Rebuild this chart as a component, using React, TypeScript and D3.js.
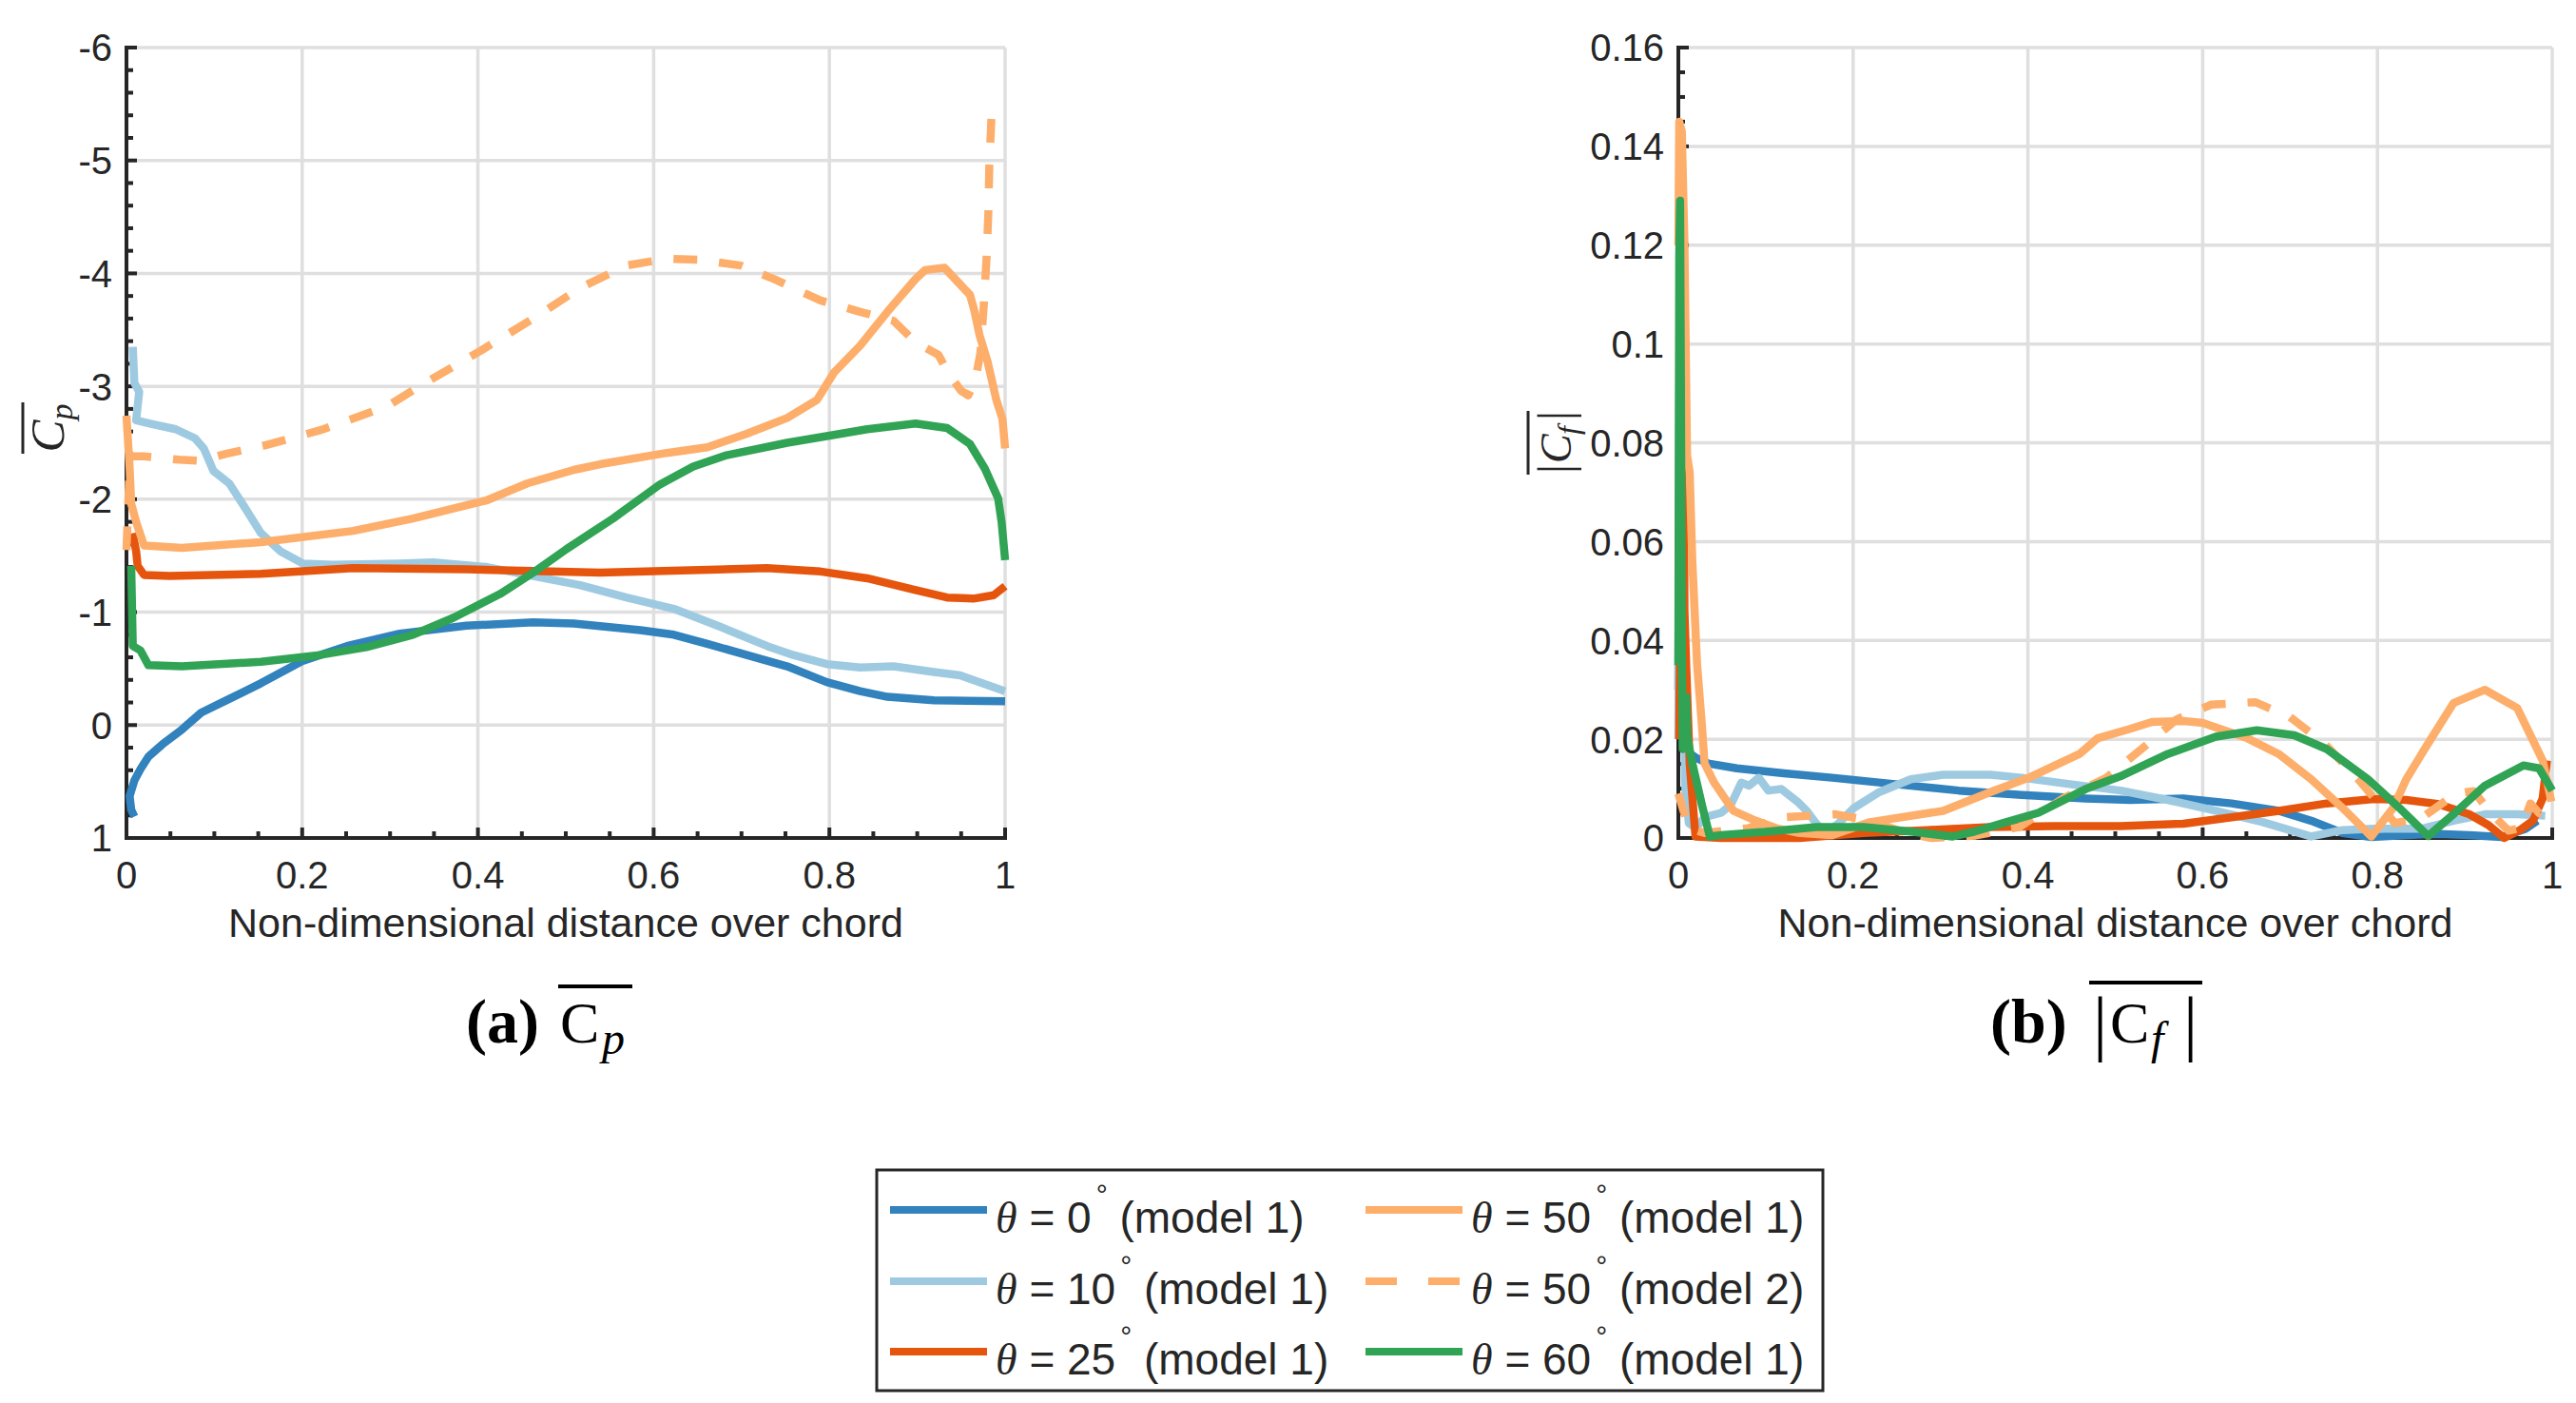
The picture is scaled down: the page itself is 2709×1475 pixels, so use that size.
import * as d3 from "d3";

type Pt = [number, number];

const FONT = "'Liberation Sans', Arial, Helvetica, sans-serif";
const SERIF = "'Liberation Serif', 'Times New Roman', serif";
const INK = "#262626";
const GRID = "#dfdfdf";

// ticks
const xTicks = [0, 0.2, 0.4, 0.6, 0.8, 1];
const xTickLabels = ["0", "0.2", "0.4", "0.6", "0.8", "1"];
const cpTicks = [-6, -5, -4, -3, -2, -1, 0, 1];
const cpTickLabels = ["-6", "-5", "-4", "-3", "-2", "-1", "0", "1"];
const cfTicks = [0, 0.02, 0.04, 0.06, 0.08, 0.1, 0.12, 0.14, 0.16];
const cfTickLabels = ["0", "0.02", "0.04", "0.06", "0.08", "0.1", "0.12", "0.14", "0.16"];

// legend / series
const seriesAngles = ["0", "10", "25", "50", "50", "60"];
const seriesModels = ["(model 1)", "(model 1)", "(model 1)", "(model 1)", "(model 2)", "(model 1)"];
const seriesColors = ["#3182bd", "#9ecae1", "#e6550d", "#fdae6b", "#fdae6b", "#31a354"];
const seriesDashed = [false, false, false, false, true, false];

// mean Cp over chord
const cpTheta0: Pt[] = [
  [0.009, 0.81], [0.0054, 0.75], [0.0036, 0.63], [0.009, 0.49], [0.016, 0.39], [0.025, 0.28],
  [0.041, 0.17], [0.063, 0.04], [0.085, -0.11], [0.114, -0.22], [0.153, -0.37], [0.201, -0.57],
  [0.251, -0.7], [0.311, -0.81], [0.387, -0.88], [0.463, -0.91], [0.509, -0.9], [0.585, -0.84],
  [0.623, -0.8], [0.661, -0.72], [0.706, -0.62], [0.752, -0.52], [0.797, -0.38], [0.835, -0.3],
  [0.866, -0.25], [0.919, -0.22], [1.0, -0.21],
];
const cpTheta10: Pt[] = [
  [0.0072, -3.35], [0.009, -3.03], [0.0145, -2.95], [0.011, -2.7], [0.027, -2.67], [0.056, -2.62],
  [0.078, -2.54], [0.088, -2.45], [0.099, -2.25], [0.117, -2.14], [0.132, -1.96], [0.153, -1.7],
  [0.175, -1.54], [0.201, -1.43], [0.235, -1.42], [0.311, -1.43], [0.349, -1.44], [0.41, -1.4],
  [0.463, -1.32], [0.516, -1.24], [0.569, -1.13], [0.623, -1.03], [0.676, -0.87], [0.729, -0.7],
  [0.759, -0.62], [0.797, -0.54], [0.835, -0.51], [0.873, -0.52], [0.919, -0.47], [0.949, -0.44],
  [1.0, -0.3],
];
const cpTheta25: Pt[] = [
  [0.007, -1.7], [0.011, -1.54], [0.0127, -1.41], [0.02, -1.33], [0.049, -1.32], [0.153, -1.34],
  [0.258, -1.39], [0.387, -1.38], [0.539, -1.35], [0.729, -1.39], [0.79, -1.36], [0.843, -1.3],
  [0.896, -1.2], [0.934, -1.13], [0.964, -1.12], [0.987, -1.15], [1.0, -1.23],
];
const cpTheta50: Pt[] = [
  [0.0, -2.74], [0.0036, -2.28], [0.0054, -1.96], [0.011, -1.8], [0.02, -1.59], [0.063, -1.57],
  [0.153, -1.62], [0.258, -1.72], [0.326, -1.83], [0.41, -1.99], [0.456, -2.14], [0.509, -2.26],
  [0.539, -2.31], [0.615, -2.41], [0.661, -2.46], [0.706, -2.58], [0.752, -2.72], [0.786, -2.88],
  [0.805, -3.12], [0.835, -3.36], [0.866, -3.66], [0.898, -3.95], [0.909, -4.03], [0.931, -4.05],
  [0.96, -3.81], [0.965, -3.67], [0.971, -3.45], [0.98, -3.22], [0.99, -2.88], [0.997, -2.71],
  [1.0, -2.45],
];
const cpTheta50m2: Pt[] = [
  [0.0, -1.55], [0.004, -2.38], [0.02, -2.38], [0.06, -2.35], [0.084, -2.34], [0.112, -2.4],
  [0.159, -2.48], [0.22, -2.61], [0.296, -2.82], [0.342, -3.04], [0.402, -3.31], [0.463, -3.6],
  [0.516, -3.87], [0.569, -4.07], [0.615, -4.13], [0.653, -4.12], [0.699, -4.07], [0.737, -3.95],
  [0.79, -3.76], [0.835, -3.66], [0.873, -3.58], [0.898, -3.39], [0.924, -3.28], [0.936, -3.11],
  [0.95, -2.96], [0.958, -2.92], [0.966, -3.05], [0.972, -3.3], [0.976, -3.75], [0.979, -4.15],
  [0.981, -4.55], [0.982, -4.95], [0.984, -5.3], [0.985, -5.48],
];
const cpTheta60: Pt[] = [
  [0.0054, -1.41], [0.0072, -0.7], [0.016, -0.66], [0.025, -0.53], [0.063, -0.52], [0.153, -0.56],
  [0.22, -0.62], [0.273, -0.69], [0.326, -0.8], [0.372, -0.95], [0.425, -1.16], [0.463, -1.35],
  [0.501, -1.56], [0.554, -1.83], [0.607, -2.13], [0.645, -2.29], [0.683, -2.39], [0.752, -2.5],
  [0.805, -2.57], [0.843, -2.62], [0.898, -2.67], [0.934, -2.63], [0.96, -2.49], [0.977, -2.27],
  [0.992, -2.01], [0.996, -1.8], [1.0, -1.46],
];

// mean |Cf| over chord
const cfTheta0: Pt[] = [
  [0, 0.03], [0.002, 0.12], [0.004, 0.06], [0.006, 0.025], [0.009, 0.0176], [0.0196, 0.0163],
  [0.034, 0.0151], [0.067, 0.0141], [0.121, 0.0131], [0.176, 0.0122], [0.248, 0.0109],
  [0.321, 0.0096], [0.393, 0.0087], [0.466, 0.008], [0.517, 0.0077], [0.578, 0.008], [0.633, 0.007],
  [0.687, 0.0055], [0.724, 0.0035], [0.76, 0.001], [0.793, 0.0002], [0.833, 0.0006],
  [0.869, 0.0008], [0.905, 0.0006], [0.942, 0.0002], [0.97, 0.0019], [0.983, 0.0035],
];
const cfTheta10: Pt[] = [
  [0, 0.02], [0.002, 0.133], [0.004, 0.09], [0.006, 0.03], [0.008, 0.01], [0.012, 0.003],
  [0.02, 0.002], [0.03, 0.0042], [0.049, 0.0051], [0.06, 0.0067], [0.072, 0.0112], [0.081, 0.0106],
  [0.092, 0.0122], [0.103, 0.0096], [0.118, 0.0099], [0.136, 0.0074], [0.147, 0.0055],
  [0.158, 0.0029], [0.168, 0.001], [0.183, 0.0029], [0.201, 0.0061], [0.23, 0.0093],
  [0.266, 0.0119], [0.303, 0.0128], [0.357, 0.0128], [0.393, 0.0122], [0.448, 0.0109],
  [0.506, 0.0096], [0.56, 0.0077], [0.615, 0.0055], [0.669, 0.0032], [0.724, 0.0003],
  [0.76, 0.0016], [0.796, 0.0019], [0.851, 0.0019], [0.887, 0.0035], [0.923, 0.0048],
  [0.96, 0.0048], [0.992, 0.0045],
];
const cfTheta25: Pt[] = [
  [0.001, 0.02], [0.004, 0.09], [0.006, 0.085], [0.007, 0.046], [0.009, 0.035], [0.013, 0.015],
  [0.0196, 0.0003], [0.049, 0], [0.139, 0], [0.212, 0.001], [0.285, 0.0016], [0.357, 0.0022],
  [0.43, 0.0024], [0.506, 0.0024], [0.578, 0.0029], [0.633, 0.0042], [0.687, 0.0055],
  [0.742, 0.007], [0.796, 0.0079], [0.833, 0.0077], [0.869, 0.0069], [0.905, 0.0048],
  [0.927, 0.0026], [0.945, 0], [0.963, 0.0016], [0.978, 0.0035], [0.989, 0.008], [0.994, 0.0157],
];
const cfTheta50: Pt[] = [
  [0.0, 0.12], [0.001, 0.145], [0.004, 0.143], [0.007, 0.12], [0.0085, 0.0986], [0.01, 0.0774],
  [0.013, 0.074], [0.016, 0.056], [0.0214, 0.0353], [0.027, 0.0227], [0.03, 0.0151],
  [0.041, 0.0112], [0.063, 0.0055], [0.0886, 0.0035], [0.114, 0.0019], [0.139, 0.001],
  [0.176, 0.0006], [0.219, 0.0032], [0.303, 0.0055], [0.357, 0.0093], [0.401, 0.0122],
  [0.459, 0.017], [0.48, 0.0202], [0.517, 0.0221], [0.542, 0.0235], [0.578, 0.0237],
  [0.6, 0.0233], [0.651, 0.0202], [0.687, 0.017], [0.724, 0.0119], [0.76, 0.0061],
  [0.793, 0.0003], [0.818, 0.0061], [0.833, 0.0119], [0.855, 0.0183], [0.887, 0.0273],
  [0.923, 0.03], [0.96, 0.0263], [0.989, 0.0157], [0.999, 0.0074],
];
const cfTheta50m2: Pt[] = [
  [0, 0.009], [0.005, 0.006], [0.012, 0.002], [0.03, 0.001], [0.08, 0.002], [0.12, 0.0042],
  [0.18, 0.0048], [0.22, 0.0035], [0.26, 0.001], [0.29, 0.0], [0.34, 0.0005], [0.39, 0.0022],
  [0.44, 0.008], [0.49, 0.0122], [0.53, 0.018], [0.57, 0.024], [0.61, 0.027], [0.66, 0.0275],
  [0.7, 0.0245], [0.74, 0.019], [0.78, 0.0115], [0.82, 0.003], [0.85, 0.004], [0.89, 0.009],
  [0.91, 0.0095], [0.93, 0.005], [0.95, 0.0015], [0.965, 0.002], [0.975, 0.007], [0.985, 0.005],
  [1.0, 0.008],
];
const cfTheta60: Pt[] = [
  [0, 0.035], [0.001, 0.118], [0.002, 0.129], [0.003, 0.09], [0.004, 0.04], [0.005, 0.018],
  [0.008, 0.022], [0.009, 0.0285], [0.0105, 0.0202], [0.016, 0.0151], [0.027, 0.0067],
  [0.036, 0.0003], [0.049, 0.0006], [0.103, 0.0013], [0.158, 0.0022], [0.212, 0.0022],
  [0.266, 0.0013], [0.314, 0.0003], [0.339, 0.0013], [0.375, 0.0032], [0.412, 0.0051],
  [0.466, 0.0099], [0.506, 0.0125], [0.56, 0.017], [0.615, 0.0205], [0.662, 0.0218],
  [0.705, 0.0208], [0.742, 0.018], [0.789, 0.0119], [0.825, 0.0061], [0.858, 0.0004],
  [0.887, 0.0048], [0.923, 0.0106], [0.967, 0.0147], [0.985, 0.0141], [1.0, 0.0096],
];

const cpSeries = [cpTheta0, cpTheta10, cpTheta25, cpTheta50, cpTheta50m2, cpTheta60];
const cfSeries = [cfTheta0, cfTheta10, cfTheta25, cfTheta50, cfTheta50m2, cfTheta60];

const TOP = 50;
const BOTTOM = 881;

interface PanelProps {
  left: number;
  right: number;
  yDomain: [number, number];
  yTicks: number[];
  yTickLabels: string[];
  yMinorCount: number;
  series: Pt[][];
}

function Panel({ left, right, yDomain, yTicks, yTickLabels, yMinorCount, series }: PanelProps) {
  const x = d3.scaleLinear().domain([0, 1]).range([left, right]);
  const y = d3.scaleLinear().domain(yDomain).range([TOP, BOTTOM]);
  const line = d3.line<Pt>().x((d) => x(d[0])).y((d) => y(d[1]));
  const xMinor = d3.ticks(0, 1, 20);
  const yMinor = d3.ticks(d3.min(yDomain)!, d3.max(yDomain)!, yMinorCount);
  const isMajor = (arr: number[], v: number) => arr.some((m) => Math.abs(m - v) < 1e-9);

  return (
    <g>
      {/* grid */}
      {xTicks.map((t) => (
        <line key={"gx" + t} x1={x(t)} x2={x(t)} y1={TOP} y2={BOTTOM} stroke={GRID} strokeWidth={3.5} />
      ))}
      {yTicks.map((t) => (
        <line key={"gy" + t} x1={left} x2={right} y1={y(t)} y2={y(t)} stroke={GRID} strokeWidth={3.5} />
      ))}

      {/* axes */}
      <line x1={left} x2={left} y1={TOP} y2={BOTTOM} stroke={INK} strokeWidth={4} strokeLinecap="square" />
      <line x1={left} x2={right} y1={BOTTOM} y2={BOTTOM} stroke={INK} strokeWidth={4} strokeLinecap="square" />
      {xMinor.map((t) => (
        <line key={"tx" + t} x1={x(t)} x2={x(t)} y1={BOTTOM} y2={BOTTOM - (isMajor(xTicks, t) ? 11 : 7)}
          stroke={INK} strokeWidth={4} />
      ))}
      {yMinor.map((t) => (
        <line key={"ty" + t} x1={left} x2={left + (isMajor(yTicks, t) ? 11 : 7)} y1={y(t)} y2={y(t)}
          stroke={INK} strokeWidth={4} />
      ))}
      {xTicks.map((t, i) => (
        <text key={"lx" + t} x={x(t)} y={934} textAnchor="middle" fontFamily={FONT} fontSize={40} fill={INK}>
          {xTickLabels[i]}
        </text>
      ))}
      {yTicks.map((t, i) => (
        <text key={"ly" + t} x={left - 15} y={y(t)} dy="0.36em" textAnchor="end" fontFamily={FONT}
          fontSize={40} fill={INK}>
          {yTickLabels[i]}
        </text>
      ))}

      {/* curves */}
      {series.map((d, i) => (
        <path key={"s" + i} d={line(d) ?? ""} fill="none" stroke={seriesColors[i]} strokeWidth={8.5}
          strokeLinejoin="round" strokeDasharray={seriesDashed[i] ? "25 23" : undefined} />
      ))}

      <text x={(left + right) / 2} y={985} textAnchor="middle" fontFamily={FONT} fontSize={43} fill={INK}>
        Non-dimensional distance over chord
      </text>
    </g>
  );
}

function Legend() {
  const box = { x: 922, y: 1230, w: 995, h: 232 };
  const cols = [936, 1436];
  const rows = [1272, 1347, 1421];
  return (
    <g>
      <rect x={box.x} y={box.y} width={box.w} height={box.h} fill="#fff" stroke={INK} strokeWidth={3} />
      {seriesAngles.map((angle, i) => {
        const cx = cols[Math.floor(i / 3)];
        const ry = rows[i % 3];
        return (
          <g key={"lg" + i}>
            <line x1={cx} x2={cx + 102} y1={ry} y2={ry} stroke={seriesColors[i]} strokeWidth={8}
              strokeDasharray={seriesDashed[i] ? "33 33" : undefined} />
            <text x={cx + 111} y={ry + 24} fontFamily={FONT} fontSize={46} fill={INK}>
              <tspan fontFamily={SERIF} fontStyle="italic">θ</tspan>
              <tspan>{" = " + angle}</tspan>
              <tspan dx={5} dy={-30} fontSize={30}>°</tspan>
              <tspan dy={30}>{" " + seriesModels[i]}</tspan>
            </text>
          </g>
        );
      })}
    </g>
  );
}

export default function App() {
  return (
    <svg width={2709} height={1475} viewBox="0 0 2709 1475"
      style={{ position: "absolute", left: 0, top: 0, background: "#fff" }}>
      <rect width={2709} height={1475} fill="#fff" />

      <Panel left={133} right={1057} yDomain={[-6, 1]} yTicks={cpTicks} yTickLabels={cpTickLabels}
        yMinorCount={35} series={cpSeries} />
      <Panel left={1765} right={2684} yDomain={[0.16, 0]} yTicks={cfTicks} yTickLabels={cfTickLabels}
        yMinorCount={32} series={cfSeries} />

      {/* y label (a) */}
      <g transform="translate(67,450) rotate(-90)">
        <text x={0} y={0} textAnchor="middle" fontFamily={SERIF} fontStyle="italic" fontSize={51} fill={INK}>
          C<tspan fontSize={34} dy={9}>p</tspan>
        </text>
        <line x1={-27} x2={27} y1={-43} y2={-43} stroke={INK} strokeWidth={3} />
      </g>

      {/* y label (b) */}
      <g transform="translate(1652,465) rotate(-90)">
        <text x={-33} y={0} fontFamily={SERIF} fontSize={50} fill={INK}>|</text>
        <text x={-22} y={0} fontFamily={SERIF} fontStyle="italic" fontSize={46} fill={INK}>C</text>
        <text x={8} y={8} fontFamily={SERIF} fontStyle="italic" fontSize={32} fill={INK}>f</text>
        <text x={23} y={0} fontFamily={SERIF} fontSize={50} fill={INK}>|</text>
        <line x1={-34} x2={33} y1={-45} y2={-45} stroke={INK} strokeWidth={3} />
      </g>

      {/* sub-captions */}
      <g fill="#000" fontFamily={SERIF}>
        <text x={490} y={1096} fontSize={66} fontWeight="bold">(a)</text>
        <text x={589} y={1096} fontSize={62}>C</text>
        <text x={633} y={1108} fontSize={48} fontStyle="italic">p</text>
        <line x1={587} x2={665} y1={1037} y2={1037} stroke="#000" strokeWidth={4} />

        <text x={2093} y={1096} fontSize={66} fontWeight="bold">(b)</text>
        <text x={2201} y={1101} fontSize={76}>|</text>
        <text x={2219} y={1096} fontSize={62}>C</text>
        <text x={2262} y={1108} fontSize={48} fontStyle="italic">f</text>
        <text x={2296} y={1101} fontSize={76}>|</text>
        <line x1={2197} x2={2316} y1={1033} y2={1033} stroke="#000" strokeWidth={4} />
      </g>

      <Legend />
    </svg>
  );
}
